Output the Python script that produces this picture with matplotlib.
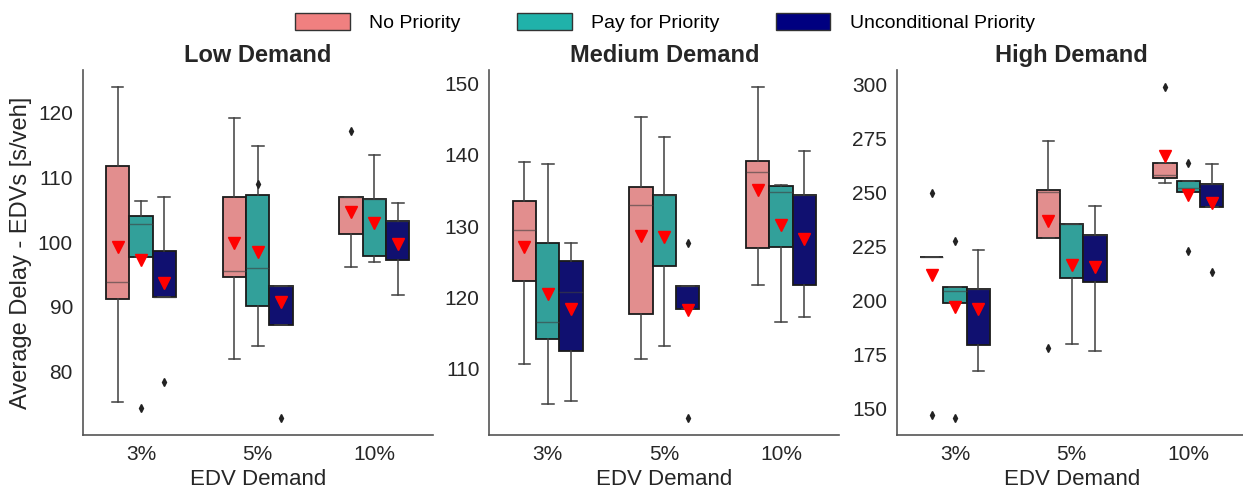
import colorsys
import matplotlib
matplotlib.use("Agg")
import matplotlib.pyplot as plt
import matplotlib.colors as mcolors
from matplotlib.patches import Patch

plt.rcParams['font.family'] = ['Liberation Sans', 'DejaVu Sans']

categories = ['3%', '5%', '10%']
groups = ['No Priority', 'Pay for Priority', 'Unconditional Priority']
group_colors = ['lightcoral', 'lightseagreen', 'navy']
titles = ['Low Demand', 'Medium Demand', 'High Demand']

# box statistics: one row per group, one value per category
low_q1 = [[91.2, 94.6, 101.2], [97.7, 90.2, 97.8], [91.6, 87.2, 97.2]]
low_med = [[93.8, 95.5, 107.0], [102.8, 96.0, 106.6], [91.6, 93.3, 103.3]]
low_q3 = [[111.8, 106.9, 107.0], [104.1, 107.3, 106.6], [98.7, 93.3, 103.3]]
low_lo = [[75.4, 82.0, 96.1], [97.7, 83.9, 97.0], [91.6, 87.2, 91.9]]
low_hi = [[124.0, 119.2, 107.0], [106.3, 114.9, 113.4], [106.9, 93.3, 106.0]]
low_mean = [[99.3, 99.8, 104.7], [97.2, 98.5, 103.0], [93.7, 90.8, 99.7]]
low_fliers = [[[], [], [117.2]], [[74.4], [109.0], []], [[78.4], [72.8], []]]

med_q1 = [[122.3, 117.7, 126.9], [114.2, 124.4, 127.1], [112.5, 118.4, 121.8]]
med_med = [[129.4, 132.9, 137.6], [116.6, 134.4, 134.8], [120.7, 121.6, 134.4]]
med_q3 = [[133.6, 135.5, 139.1], [127.6, 134.4, 135.7], [125.1, 121.6, 134.4]]
med_lo = [[110.6, 111.3, 121.7], [105.0, 113.2, 116.6], [105.4, 118.4, 117.2]]
med_hi = [[139.0, 145.3, 149.6], [138.7, 142.5, 135.8], [127.6, 121.6, 140.5]]
med_mean = [[127.1, 128.6, 135.1], [120.5, 128.5, 130.2], [118.3, 118.2, 128.2]]
med_fliers = [[[], [], []], [[], [], []], [[], [127.7, 103.0], []]]

high_q1 = [[219.8, 228.8, 256.7], [198.6, 210.1, 250.0], [179.1, 208.4, 243.1]]
high_med = [[219.8, 250.0, 257.9], [204.3, 235.2, 251.8], [205.0, 230.0, 253.9]]
high_q3 = [[219.8, 250.8, 263.6], [206.0, 235.2, 255.0], [205.0, 230.0, 253.9]]
high_lo = [[219.8, 228.8, 254.1], [198.6, 179.7, 250.0], [167.1, 176.6, 243.1]]
high_hi = [[219.8, 273.8, 263.6], [206.0, 235.2, 255.0], [223.1, 243.7, 263.1]]
high_mean = [[211.7, 236.8, 266.8], [196.7, 216.3, 248.8], [195.8, 215.2, 245.1]]
high_fliers = [[[249.4, 146.8], [178.0], [298.9]], [[227.4, 145.2], [], [263.6, 222.8]],
               [[], [], [213.0]]]

panels = [
    (low_q1, low_med, low_q3, low_lo, low_hi, low_mean, low_fliers),
    (med_q1, med_med, med_q3, med_lo, med_hi, med_mean, med_fliers),
    (high_q1, high_med, high_q3, high_lo, high_hi, high_mean, high_fliers),
]


def desaturate(color, prop=0.75):
    # same idea as seaborn's box colours
    r, g, b = mcolors.to_rgb(color)
    h, l, s = colorsys.rgb_to_hls(r, g, b)
    return colorsys.hls_to_rgb(h, l, s * prop)


fig = plt.figure(figsize=(12.43, 4.90), dpi=100)
ax_w = 0.2816
ax_left = [0.0665, 0.3937, 0.7214]
box_w = 0.2

for p, (q1, med, q3, lo, hi, mean, fliers) in enumerate(panels):
    ax = fig.add_axes([ax_left[p], 0.1122, ax_w, 0.745])
    for g in range(len(groups)):
        stats = []
        for c in range(len(categories)):
            stats.append(dict(q1=q1[g][c], med=med[g][c], q3=q3[g][c],
                              whislo=lo[g][c], whishi=hi[g][c],
                              mean=mean[g][c], fliers=fliers[g][c]))
        pos = [c + (g - 1) * box_w for c in range(len(categories))]
        ax.bxp(stats, positions=pos, widths=box_w, patch_artist=True,
               showmeans=True, manage_ticks=False,
               boxprops=dict(facecolor=desaturate(group_colors[g]),
                             edgecolor='#1a1a1a', linewidth=1.3),
               medianprops=dict(color='#3f3f3f', linewidth=1, alpha=0.6),
               whiskerprops=dict(color='#3f3f3f', linewidth=1.1),
               capprops=dict(color='#3f3f3f', linewidth=1.1),
               meanprops=dict(marker='v', markerfacecolor='red',
                              markeredgecolor='red', markersize=8.5),
               flierprops=dict(marker='d', markerfacecolor='#222222',
                               markeredgecolor='#222222', markersize=4))
    ax.set_xticks(range(len(categories)))
    ax.set_xticklabels(categories)
    ax.set_xlim(-0.5, len(categories) - 0.5)
    ax.margins(y=0.05)
    ax.set_xlabel('EDV Demand', fontsize=16, color='#262626')
    ax.set_title(titles[p], fontsize=17, fontweight='bold', color='#262626')
    ax.tick_params(length=0, labelsize=15, labelcolor='#262626', pad=7)
    for side in ['top', 'right']:
        ax.spines[side].set_visible(False)
    for side in ['left', 'bottom']:
        ax.spines[side].set_color('#555555')
        ax.spines[side].set_linewidth(1.2)
    if p == 0:
        ax.set_ylabel('Average Delay - EDVs [s/veh]', fontsize=17, color='#262626')

handles = [Patch(facecolor=c, edgecolor='#333333', label=n)
           for c, n in zip(group_colors, groups)]
fig.legend(handles=handles, loc='upper center', bbox_to_anchor=(0.535, 1.01),
           ncol=3, frameon=False, fontsize=14, handlelength=2.8,
           handleheight=1.0, columnspacing=2.9, handletextpad=1.0)

fig.savefig('out.png', dpi=100)
